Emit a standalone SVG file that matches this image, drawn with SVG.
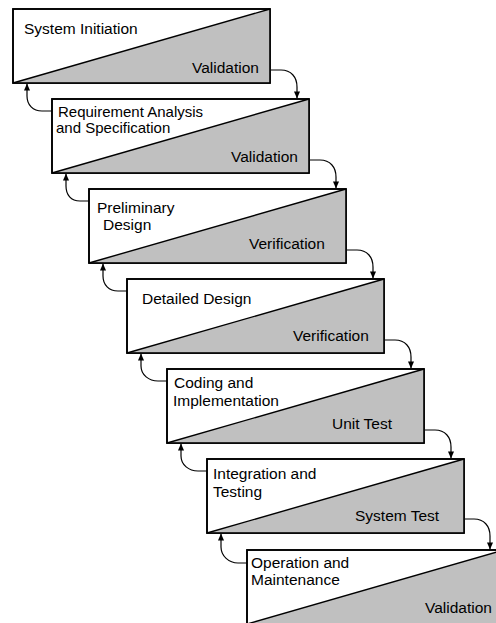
<svg xmlns="http://www.w3.org/2000/svg" width="496" height="623" viewBox="0 0 496 623">
  <style>
    .frame { fill: #ffffff; stroke: #000000; stroke-width: 1.6; }
    .edge { fill: none; stroke: #000000; stroke-width: 1.6; }
    .wedge { fill: #c0c0c0; stroke: none; }
    .slope { stroke: #000000; stroke-width: 1.4; fill: none; }
    .label { font-family: "Liberation Sans", Arial, sans-serif; font-size: 15.5px; fill: #000000; }
    .tight { font-size: 15px; }
    .link { fill: none; stroke: #000000; stroke-width: 1.2; }
  </style>
  <defs>
    <marker id="tip" viewBox="0 0 8 8" refX="7.5" refY="4" markerWidth="7" markerHeight="7" markerUnits="userSpaceOnUse" orient="auto">
      <path d="M0,0.5 L8,4 L0,7.5 Z" fill="#000000"/>
    </marker>
  </defs>

  <!-- Phase 1 -->
  <g id="system-initiation">
    <rect class="frame" x="13" y="9" width="257" height="74"/>
    <polygon class="wedge" points="13,83 270,9 270,83"/>
    <line class="slope" x1="13" y1="83" x2="270" y2="9"/>
    <rect class="edge" x="13" y="9" width="257" height="74"/>
    <text class="label" x="24" y="34">System Initiation</text>
    <text class="label" x="192" y="73">Validation</text>
  </g>

  <!-- Phase 2 -->
  <g id="requirement-analysis">
    <rect class="frame" x="52" y="99" width="257" height="74"/>
    <polygon class="wedge" points="52,173 309,99 309,173"/>
    <line class="slope" x1="52" y1="173" x2="309" y2="99"/>
    <rect class="edge" x="52" y="99" width="257" height="74"/>
    <text class="label tight" x="58" y="117">Requirement Analysis</text>
    <text class="label tight" x="56" y="133">and Specification</text>
    <text class="label" x="231" y="162">Validation</text>
  </g>

  <!-- Phase 3 -->
  <g id="preliminary-design">
    <rect class="frame" x="89" y="189" width="257" height="74"/>
    <polygon class="wedge" points="89,263 346,189 346,263"/>
    <line class="slope" x1="89" y1="263" x2="346" y2="189"/>
    <rect class="edge" x="89" y="189" width="257" height="74"/>
    <text class="label" x="97" y="213">Preliminary</text>
    <text class="label" x="103" y="230">Design</text>
    <text class="label" x="249" y="249">Verification</text>
  </g>

  <!-- Phase 4 -->
  <g id="detailed-design">
    <rect class="frame" x="127" y="279" width="257" height="74"/>
    <polygon class="wedge" points="127,353 384,279 384,353"/>
    <line class="slope" x1="127" y1="353" x2="384" y2="279"/>
    <rect class="edge" x="127" y="279" width="257" height="74"/>
    <text class="label" x="142" y="304">Detailed Design</text>
    <text class="label" x="293" y="341">Verification</text>
  </g>

  <!-- Phase 5 -->
  <g id="coding-implementation">
    <rect class="frame" x="167" y="369" width="257" height="74"/>
    <polygon class="wedge" points="167,443 424,369 424,443"/>
    <line class="slope" x1="167" y1="443" x2="424" y2="369"/>
    <rect class="edge" x="167" y="369" width="257" height="74"/>
    <text class="label" x="174" y="388">Coding and</text>
    <text class="label" x="173" y="406">Implementation</text>
    <text class="label" x="332" y="429">Unit Test</text>
  </g>

  <!-- Phase 6 -->
  <g id="integration-testing">
    <rect class="frame" x="207" y="459" width="257" height="74"/>
    <polygon class="wedge" points="207,533 464,459 464,533"/>
    <line class="slope" x1="207" y1="533" x2="464" y2="459"/>
    <rect class="edge" x="207" y="459" width="257" height="74"/>
    <text class="label" x="213" y="479">Integration and</text>
    <text class="label" x="213" y="497">Testing</text>
    <text class="label" x="355" y="521">System Test</text>
  </g>

  <!-- Phase 7 -->
  <g id="operation-maintenance">
    <rect class="frame" x="247" y="550" width="257" height="74"/>
    <polygon class="wedge" points="247,624 504,550 504,624"/>
    <line class="slope" x1="247" y1="624" x2="504" y2="550"/>
    <rect class="edge" x="247" y="550" width="257" height="74"/>
    <text class="label" x="251" y="568">Operation and</text>
    <text class="label" x="251" y="585">Maintenance</text>
    <text class="label" x="425" y="613">Validation</text>
  </g>

  <!-- Forward hand-offs (right side) and feedback loops (left side) -->
  <g id="connectors">
    <path class="link" marker-end="url(#tip)" d="M271,70 L281,70 C291,70 297,77 297,87 L297,98"/>
    <path class="link" marker-end="url(#tip)" d="M310,160 L320,160 C330,160 336,167 336,177 L336,188"/>
    <path class="link" marker-end="url(#tip)" d="M347,250 L357,250 C367,250 373,257 373,267 L373,278"/>
    <path class="link" marker-end="url(#tip)" d="M385,340 L395,340 C405,340 411,347 411,357 L411,368"/>
    <path class="link" marker-end="url(#tip)" d="M425,430 L435,430 C445,430 451,437 451,447 L451,458"/>
    <path class="link" marker-end="url(#tip)" d="M465,519 L474,519 C484,519 490,526 490,536 L490,549"/>

    <path class="link" marker-end="url(#tip)" d="M52,111 L42,111 C33,111 27,105 27,96 L27,84"/>
    <path class="link" marker-end="url(#tip)" d="M89,201 L80,201 C71,201 66,195 66,186 L66,174"/>
    <path class="link" marker-end="url(#tip)" d="M127,291 L118,291 C109,291 103,285 103,276 L103,264"/>
    <path class="link" marker-end="url(#tip)" d="M167,381 L158,381 C149,381 141,375 141,366 L141,354"/>
    <path class="link" marker-end="url(#tip)" d="M207,471 L198,471 C189,471 181,465 181,456 L181,444"/>
    <path class="link" marker-end="url(#tip)" d="M247,563 L238,563 C229,563 221,556 221,547 L221,534"/>
  </g>
</svg>
